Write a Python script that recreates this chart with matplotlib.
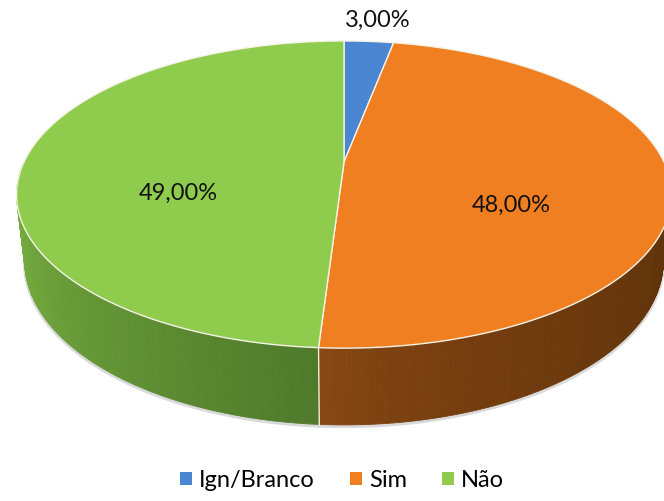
import numpy as np
import matplotlib.pyplot as plt
from matplotlib.patches import Polygon, Patch
from matplotlib.colors import to_rgb

labels = ['Ign/Branco', 'Sim', 'Não']
values = [3.0, 48.0, 49.0]
pct_text = ['3,00%', '48,00%', '49,00%']
top_colors = ['#4a86d2', '#f07f22', '#8fcc4e']
side_light = ['#3a6aa8', '#8e4a15', '#80b944']
side_dark = ['#2c5080', '#5a3008', '#4e7a2a']

plt.rcParams['font.family'] = ['Lato', 'DejaVu Sans']

fig = plt.figure(figsize=(6.64, 5.01), dpi=100)
ax = fig.add_axes([0, 0, 1, 1])
ax.set_xlim(0, 664)
ax.set_ylim(501, 0)
ax.axis('off')

# 3D pie viewed from above with perspective (pixel units on screen)
cx, cy = 344, 162          # where the pie centre lands
sx, sy = 320, 326          # screen scale
sphi = 0.45
cphi = np.sqrt(1 - sphi ** 2)
D = 4.72 * cphi            # camera distance (radius = 1)
h = 0.23                   # pie thickness


def proj(t, r=1.0, yh=0.0):
    # t: clockwise angle from 12 o'clock, yh: height below the top face
    rad = np.radians(t)
    X, Z = r * np.sin(rad), -r * np.cos(rad)
    depth = D + yh * sphi - Z * cphi
    u = Z * sphi + yh * cphi
    return cx + sx * X * D / depth, cy + sy * u * D / depth


def mix(c1, c2, f):
    c1, c2 = np.array(to_rgb(c1)), np.array(to_rgb(c2))
    f = min(max(f, 0), 1)
    return tuple(c1 * (1 - f) + c2 * f)


total = sum(values)
bounds = np.concatenate([[0], np.cumsum(values) / total * 360])

# side walls: strips of the front half, drawn back to front
strips = []
for i in range(len(values)):
    t0, t1 = max(bounds[i], 90), min(bounds[i + 1], 270)
    if t1 <= t0:
        continue
    ts = np.linspace(t0, t1, 140)
    for k in range(len(ts) - 1):
        tm = 0.5 * (ts[k] + ts[k + 1])
        # lighter on the left end of each wall, darker towards the right
        f = (t1 - tm) / (t1 - t0)
        if i == 1:
            f = f ** 0.5
        strips.append((-np.cos(np.radians(tm)), ts[k], ts[k + 1], mix(side_light[i], side_dark[i], f)))
    # soft shadow along the bottom rim
    xs, ys = zip(*[proj(t, yh=h) for t in ts])
    ax.plot(np.array(xs), np.array(ys) + 1.5, color='#d9d9d9', lw=2.5, zorder=0)

for z, ta, tb, col in sorted(strips, key=lambda s: s[0]):
    verts = [proj(ta), proj(tb), proj(tb, yh=h), proj(ta, yh=h)]
    ax.add_patch(Polygon(verts, closed=True, facecolor=col, edgecolor=col, lw=0.6, zorder=1))

# wall dividers
for t in bounds:
    if 90 < t < 270:
        (x0, y0), (x1, y1) = proj(t), proj(t, yh=h)
        ax.plot([x0, x1], [y0, y1], color='#f3eedc', lw=1.0, zorder=2)

# top faces
for i in range(len(values)):
    ts = np.linspace(bounds[i], bounds[i + 1], 200)
    verts = [(cx, cy)] + [proj(t) for t in ts]
    ax.add_patch(Polygon(verts, closed=True, facecolor=top_colors[i],
                         edgecolor='#f5f2e6', lw=1.0, zorder=3))

# data labels
for i in range(len(values)):
    mid = 0.5 * (bounds[i] + bounds[i + 1])
    if values[i] < 10:
        x, y = proj(mid, r=1.22)
        x += 5
    else:
        x, y = proj(mid, r=0.52)
        y += 34
    ax.text(x, y, pct_text[i], ha='center', va='center', fontsize=17, color='#111111', zorder=4)

handles = [Patch(facecolor=c, edgecolor='none') for c in top_colors]
fig.legend(handles, labels, loc='lower center', bbox_to_anchor=(0.515, -0.022), ncol=3,
           frameon=False, fontsize=17, handlelength=0.5, handleheight=0.5,
           handletextpad=0.3, columnspacing=1.5)

fig.savefig('out.png', dpi=100)
